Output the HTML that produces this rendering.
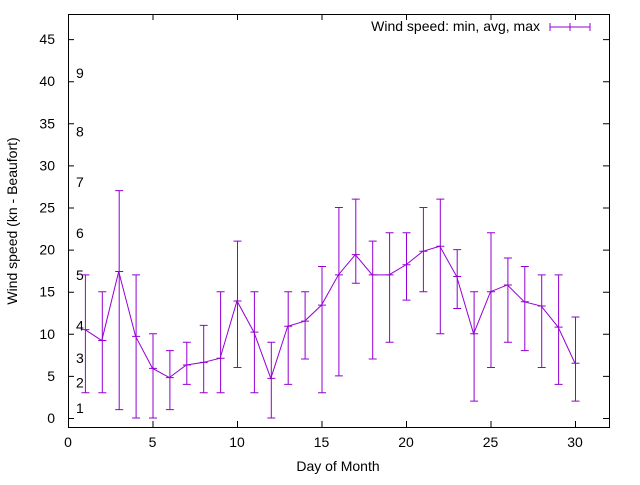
<!DOCTYPE html>
<html><head><meta charset="utf-8"><style>
body{margin:0;background:#fff}
svg{font-family:"Liberation Sans",sans-serif;font-size:14px}
</style></head><body>
<svg id="chart" width="640" height="480">
<rect width="640" height="480" fill="#fff"/>
<g id="axes"></g><g id="marks"></g>
<rect x="68.5" y="14.5" width="541" height="413" fill="none" stroke="#000"/>
<text x="338" y="471" text-anchor="middle">Day of Month</text>
<text transform="translate(17,221) rotate(-90)" text-anchor="middle">Wind speed (kn - Beaufort)</text>
<g>
<text x="540" y="31" text-anchor="end">Wind speed: min, avg, max</text>
<path d="M550 27H590M550 23V31M570 23V31M590 23V31" stroke="#9400d3" fill="none"/>
</g>
</svg>
<script>
const days=[1,2,3,4,5,6,7,8,9,10,11,12,13,14,15,16,17,18,19,20,21,22,23,24,25,26,27,28,29,30];
const avgVals=[10.5,9.2,17.4,9.7,5.9,4.8,6.3,6.6,7.1,13.9,10.2,4.7,10.9,11.5,13.4,17,19.4,17,17,18.2,19.8,20.4,16.8,10,15,15.8,13.8,13.3,10.8,6.5];
const minVals=[3,3,1,0,0,1,4,3,3,6,3,0,4,7,3,5,16,7,9,14,15,10,13,2,6,9,8,6,4,2];
const maxVals=[17,15,27,17,10,8,9,11,15,21,15,9,15,15,18,25,26,21,22,22,25,26,20,15,22,19,18,17,17,12];
const xTicks=[0,5,10,15,20,25,30];
const yTicks=[0,5,10,15,20,25,30,35,40,45];
const beaufortLabels=["1","2","3","4","5","6","7","8","9"];
const beaufortY=[1.2,4.2,7.1,11,17,22,28,34,41];
const X=v=>68+v*16.9, Y=v=>418-v*8.42;
const NS="http://www.w3.org/2000/svg";
const ax=document.getElementById('axes'), mk=document.getElementById('marks');
function el(t,a,p){const e=document.createElementNS(NS,t);for(const k in a)e.setAttribute(k,a[k]);p.appendChild(e);return e;}
xTicks.forEach(t=>{const x=X(t)+0.5;
 const l=el('path',{d:`M${x} 427V421M${x} 14V20`,stroke:'#000'},ax);
 
 
 const tx=el('text',{x:X(t),y:447,'text-anchor':'middle'},ax);tx.textContent=t;
 
 });
yTicks.forEach(t=>{const y=Y(t)+0.5;
 const l=el('path',{d:`M68 ${y}H74M609 ${y}H603`,stroke:'#000'},ax);
 
 
 const tx=el('text',{x:55,y:Y(t)+5,'text-anchor':'end'},ax);tx.textContent=t;
 
 });
beaufortLabels.forEach((b,i)=>{const tx=el('text',{x:76,y:Y(beaufortY[i])+5},ax);tx.textContent=b;
 
 });
const line=el('polyline',{points:days.map((d,i)=>X(d)+','+Y(avgVals[i])).join(' '),fill:'none',stroke:'#9400d3'},mk);


days.forEach((d,i)=>{const x=X(d)+0.5,y1=Y(minVals[i]),y2=Y(maxVals[i]),ya=Y(avgVals[i]);
 const p=el('path',{d:`M${x} ${y1}V${y2}M${x-4} ${y1}H${x+4}M${x-4} ${y2}H${x+4}M${x-4} ${ya}H${x+4}`,stroke:'#9400d3',fill:'none'},mk);
 
 });
</script>
</body></html>
